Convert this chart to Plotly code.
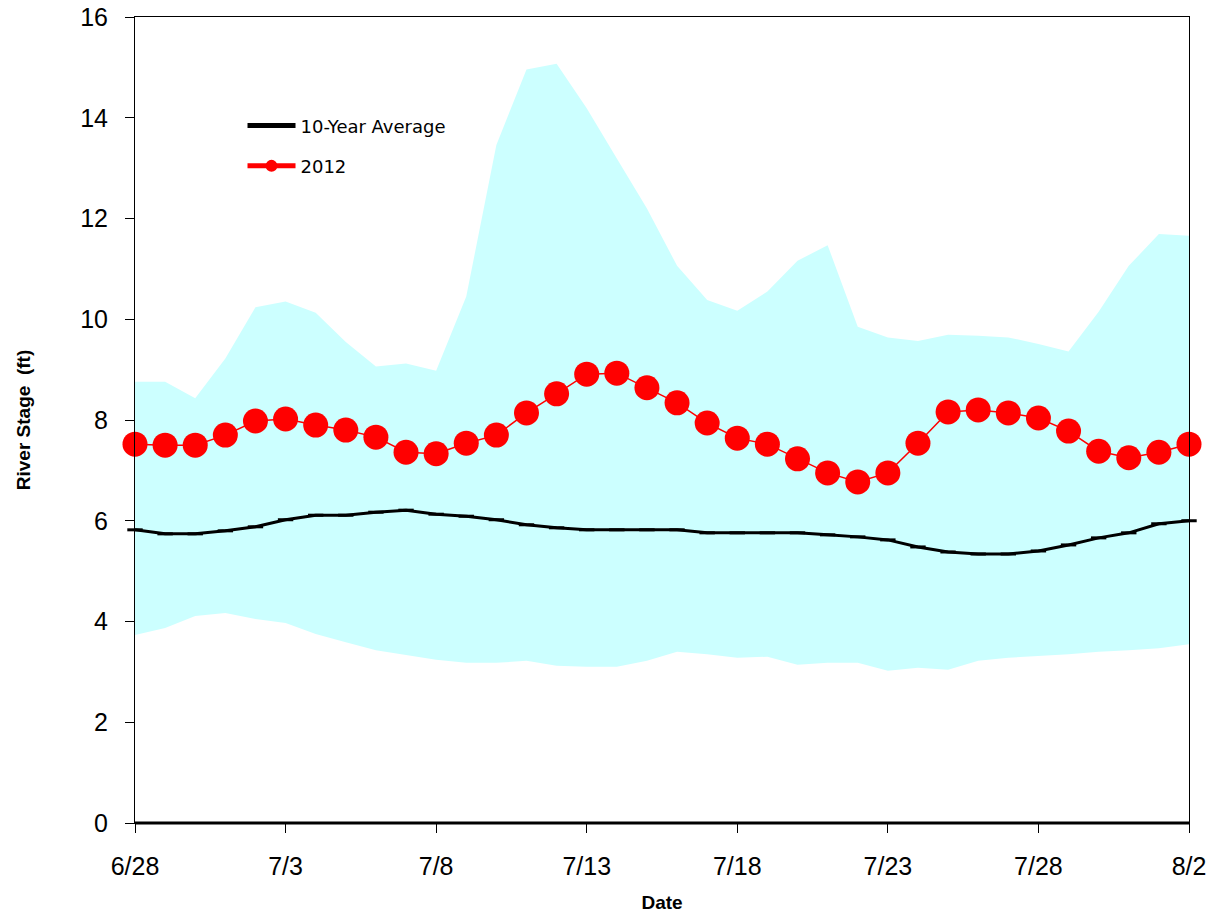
import plotly.graph_objects as go
import pandas as pd

dates = pd.date_range("2012-06-28", "2012-08-02", freq="D")

avg_10yr = [5.82, 5.74, 5.74, 5.80, 5.88, 6.02, 6.11, 6.11, 6.17, 6.21,
            6.13, 6.09, 6.02, 5.92, 5.86, 5.82, 5.82, 5.82, 5.82, 5.76,
            5.76, 5.76, 5.76, 5.72, 5.68, 5.62, 5.48, 5.38, 5.34, 5.34,
            5.40, 5.52, 5.66, 5.76, 5.94, 6.00]

stage_2012 = [7.52, 7.50, 7.50, 7.70, 7.98, 8.02, 7.90, 7.80, 7.66, 7.36,
              7.33, 7.54, 7.70, 8.14, 8.52, 8.91, 8.93, 8.64, 8.34, 7.94,
              7.64, 7.52, 7.23, 6.95, 6.77, 6.95, 7.54, 8.16, 8.20, 8.14,
              8.04, 7.78, 7.38, 7.25, 7.36, 7.52]

band_max = [8.76, 8.76, 8.43, 9.22, 10.24, 10.35, 10.13, 9.55, 9.06, 9.12,
            8.98, 10.45, 13.46, 14.96, 15.07, 14.19, 13.19, 12.20, 11.06, 10.38,
            10.17, 10.55, 11.16, 11.47, 9.85, 9.64, 9.57, 9.69, 9.67, 9.64,
            9.51, 9.36, 10.15, 11.06, 11.69, 11.66]

band_min = [3.73, 3.87, 4.11, 4.17, 4.05, 3.97, 3.75, 3.59, 3.43, 3.33,
            3.24, 3.18, 3.18, 3.22, 3.12, 3.10, 3.10, 3.22, 3.40, 3.35,
            3.28, 3.30, 3.14, 3.18, 3.18, 3.02, 3.08, 3.04, 3.22, 3.28,
            3.32, 3.35, 3.40, 3.43, 3.47, 3.55]

tick_dates = pd.date_range("2012-06-28", "2012-08-02", freq="5D")
tick_labels = [f"{d.month}/{d.day}" for d in tick_dates]

fig = go.Figure()

# Range band (min to max)
fig.add_trace(go.Scatter(
    x=list(dates) + list(dates[::-1]),
    y=band_max + band_min[::-1],
    fill="toself", fillcolor="#CCFFFF",
    line=dict(width=0, color="#CCFFFF"),
    mode="lines", showlegend=False, hoverinfo="skip"))

fig.add_trace(go.Scatter(
    x=dates, y=avg_10yr, name="10-Year Average", mode="lines+markers",
    legendgroup="a",
    line=dict(color="black", width=3),
    marker=dict(symbol="line-ew", size=11, color="black",
                line=dict(color="black", width=3)),
    cliponaxis=False))

fig.add_trace(go.Scatter(
    x=dates, y=stage_2012, name="2012", mode="lines+markers",
    legendgroup="b",
    line=dict(color="#FF0000", width=1.5),
    marker=dict(symbol="circle", size=25, color="#FF0000"),
    cliponaxis=False))

fig.update_layout(
    width=1216, height=909,
    margin=dict(l=127, r=35, t=9, b=94),
    paper_bgcolor="white", plot_bgcolor="white",
    font=dict(family="Liberation Sans, Arial, sans-serif", color="black"),
    legend=dict(x=0.102, y=0.888, xanchor="left", yanchor="top",
                bgcolor="rgba(0,0,0,0)", itemwidth=48,
                font=dict(family="DejaVu Sans, Verdana", size=18),
                tracegroupgap=14, itemsizing="constant"),
    showlegend=True,
)

fig.update_xaxes(
    range=[dates[0], dates[-1]], automargin=False,
    tickvals=tick_dates, ticktext=tick_labels,
    ticks="outside", ticklen=9, tickwidth=1, tickcolor="black",
    showline=True, linecolor="black", linewidth=1, mirror=True,
    showgrid=False, zeroline=False,
    tickfont=dict(size=25), ticklabelstandoff=12, ticklabeloverflow="allow",
    title=dict(text="<b>Date</b>", font=dict(size=19), standoff=16))

fig.update_yaxes(
    range=[0, 16], dtick=2, automargin=False,
    ticks="outside", ticklen=9, tickwidth=1, tickcolor="black",
    showline=True, linecolor="black", linewidth=1, mirror=True,
    showgrid=False, zeroline=False,
    tickfont=dict(size=25), ticklabelstandoff=12, ticklabeloverflow="allow",
    title=dict(text="<b>River Stage  (ft)</b>", font=dict(size=19), standoff=44))

# Thick bottom axis line (as in the reference)
fig.add_shape(type="line", xref="paper", yref="paper", x0=0, x1=1, y0=0, y1=0,
              line=dict(color="black", width=3), layer="above")

fig.write_html("out.html")
